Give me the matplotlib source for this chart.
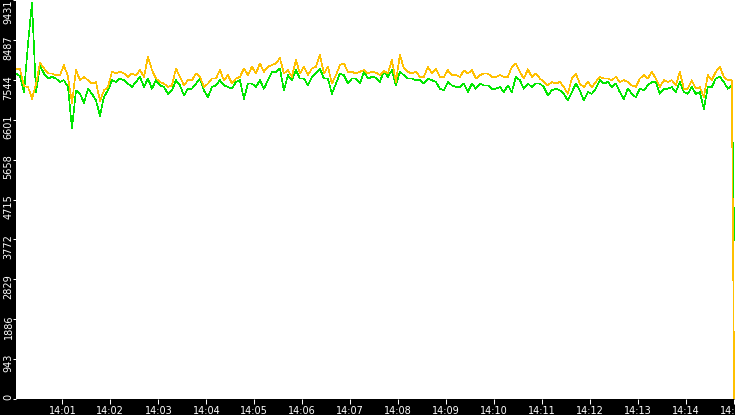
#!/usr/bin/env python
# -*- coding: utf-8 -*-

"""
Two throughput series sampled over ~15 minutes (14:00 - 14:15)
- black frame, white plot area, rotated y labels
"""

import numpy as np
import matplotlib
matplotlib.use('Agg')
import matplotlib.pyplot as plt
import matplotlib.transforms as mtransforms

# sample grid (seconds after 14:00:00)
START_SEC = 2
STEP_SEC = 5
END_SEC = 900

# values, one every 5 s
orange_values = [
    7800, 7800, 7400, 7380, 7100, 7450, 7950, 7820, 7700, 7700,
    7660, 7660, 7900, 7620, 7000, 7780, 7540, 7620, 7540, 7460,
    7500, 7050, 7300, 7380, 7740, 7700, 7740, 7700, 7620, 7700,
    7660, 7780, 7620, 8100, 7780, 7580, 7500, 7460, 7380, 7420,
    7820, 7620, 7420, 7540, 7540, 7700, 7620, 7380, 7460, 7580,
    7580, 7780, 7540, 7660, 7460, 7580, 7620, 7820, 7660, 7860,
    7700, 7940, 7740, 7860, 7900, 7940, 8060, 7700, 7780, 7620,
    8020, 7700, 7860, 7660, 7820, 7860, 8140, 7700, 7860, 7460,
    7660, 7900, 7940, 7740, 7740, 7700, 7740, 7780, 7700, 7740,
    7720, 7660, 7760, 7700, 8020, 7500, 8140, 7820, 7740, 7700,
    7740, 7620, 7620, 7860, 7700, 7820, 7620, 7620, 7780, 7660,
    7660, 7620, 7770, 7700, 7780, 7580, 7660, 7700, 7700, 7620,
    7620, 7660, 7620, 7620, 7860, 7940, 7740, 7580, 7800, 7620,
    7700, 7580, 7500, 7420, 7500, 7460, 7500, 7380, 7220, 7580,
    7700, 7460, 7380, 7500, 7380, 7500, 7620, 7580, 7580, 7540,
    7620, 7500, 7540, 7500, 7420, 7380, 7580, 7660, 7580, 7740,
    7580, 7380, 7540, 7500, 7540, 7420, 7740, 7340, 7340, 7540,
    7340, 7380, 7140, 7660, 7540, 7740, 7860, 7620, 7540, 7540,
]
green_values = [
    7700, 7640, 7250, 8400, 9380, 7250, 7880, 7700, 7580, 7620,
    7580, 7500, 7540, 7380, 6400, 7300, 7220, 7000, 7340, 7220,
    7060, 6700, 7150, 7300, 7540, 7500, 7580, 7540, 7460, 7380,
    7500, 7620, 7380, 7580, 7340, 7540, 7420, 7380, 7220, 7300,
    7540, 7420, 7180, 7340, 7340, 7460, 7580, 7300, 7140, 7380,
    7420, 7540, 7420, 7380, 7340, 7500, 7540, 7100, 7460, 7460,
    7380, 7540, 7340, 7540, 7740, 7740, 7820, 7300, 7660, 7540,
    7780, 7580, 7580, 7420, 7620, 7700, 7820, 7580, 7580, 7220,
    7460, 7700, 7660, 7460, 7580, 7580, 7460, 7740, 7580, 7620,
    7600, 7500, 7760, 7620, 7780, 7420, 7740, 7660, 7580, 7580,
    7540, 7540, 7460, 7580, 7540, 7500, 7340, 7300, 7500, 7420,
    7380, 7380, 7460, 7260, 7460, 7340, 7460, 7420, 7420, 7340,
    7340, 7380, 7260, 7420, 7260, 7620, 7540, 7340, 7460, 7380,
    7460, 7460, 7380, 7180, 7300, 7340, 7300, 7220, 7060, 7260,
    7460, 7300, 7060, 7260, 7220, 7340, 7540, 7460, 7500, 7380,
    7460, 7260, 7100, 7340, 7220, 7140, 7340, 7300, 7420, 7500,
    7500, 7220, 7340, 7340, 7380, 7260, 7500, 7260, 7220, 7380,
    7220, 7260, 6860, 7380, 7380, 7580, 7620, 7500, 7340, 7420,
]
# last point at 14:15:00
orange_last = 0
green_last = 3750

y_ticks = [0, 943, 1886, 2829, 3772, 4715, 5658, 6601, 7544, 8487, 9431]
x_tick_labels = ['14:01', '14:02', '14:03', '14:04', '14:05', '14:06', '14:07',
                 '14:08', '14:09', '14:10', '14:11', '14:12', '14:13', '14:14',
                 '14:15']

W, H, DPI = 735, 415, 100
Y_TOP = 9440


def draw_chart(path):
    """차트 그리기"""
    fig = plt.figure(figsize=(W / DPI, H / DPI), dpi=DPI, facecolor='black')
    plot_h = H - 16.3
    ax = fig.add_axes([16 / W, 16.3 / H, (W - 16) / W, plot_h / H])
    ax.set_facecolor('white')

    t = START_SEC + STEP_SEC * np.arange(len(orange_values))
    t = np.append(t, END_SEC)
    green = green_values + [green_last]
    orange = orange_values + [orange_last]

    ax.plot(t, green, color='#00e600', lw=0.45, antialiased=False)
    ax.plot(t, orange, color='#ffc000', lw=0.45, antialiased=False)

    ax.set_xlim(START_SEC, 901)
    ax.set_ylim(0, Y_TOP)

    for s in ax.spines.values():
        s.set_visible(False)

    # x axis: one tick per minute
    x_ticks = [60 * (i + 1) for i in range(len(x_tick_labels))]
    ax.set_xticks(x_ticks)
    ax.set_xticklabels(x_tick_labels)
    ax.tick_params(axis='x', colors='white', labelsize=7, length=3.5,
                   width=0.75, pad=1.5)

    # y axis: tick marks only, labels drawn as rotated texts
    ax.set_yticks(y_ticks)
    ax.set_yticklabels([])
    ax.tick_params(axis='y', colors='white', length=2.4, width=0.75)

    # labels start ~5 px above their tick, kept inside the top edge
    nudge = 5 * Y_TOP / plot_h
    trans = mtransforms.blended_transform_factory(fig.transFigure, ax.transData)
    for v in y_ticks:
        ax.text(13.5 / W, min(v + nudge, Y_TOP), str(v), transform=trans,
                rotation=90, ha='right', va='top', color='white',
                fontsize=7, clip_on=False)

    fig.savefig(path, dpi=DPI, facecolor='black')
    plt.close(fig)


def main():
    draw_chart('out.png')


if __name__ == "__main__":
    main()
